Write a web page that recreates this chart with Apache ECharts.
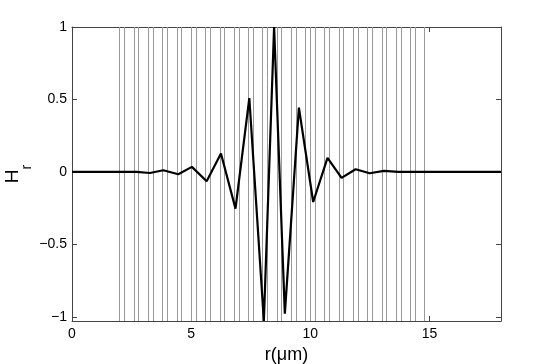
<!DOCTYPE html>
<html>
<head>
<meta charset="utf-8">
<script src="https://cdn.jsdelivr.net/npm/echarts@6/dist/echarts.min.js"></script>
<style>
  html, body { margin: 0; padding: 0; background: #fff; }
  #main { width: 554px; height: 364px; }
</style>
</head>
<body>
<div id="main"></div>
<script>
// r (um) and H_r (vertices of the curve)
const rVals = [0, 2.7, 3.27, 3.83, 4.46, 5.03, 5.65, 6.25, 6.86, 7.44, 8.05, 8.48, 8.93, 9.52, 10.12, 10.72, 11.31, 11.90, 12.49, 13.09, 13.7, 18];
const hVals = [0, 0, -0.007, 0.012, -0.016, 0.035, -0.064, 0.127, -0.253, 0.51, -1.028, 1.0, -0.977, 0.444, -0.207, 0.097, -0.041, 0.019, -0.009, 0.007, 0, 0];

// grey vertical lines (um)
const ringEdges = [
  2.0, 2.2, 2.6, 2.8, 3.2, 3.4, 3.8, 4.0, 4.4, 4.6, 5.0, 5.2, 5.6, 5.8,
  6.2, 6.4, 6.8, 7.0, 7.4, 7.6, 8.0, 8.2, 8.6, 8.8, 9.2, 9.4, 9.8, 10.0,
  10.2, 10.6, 10.8, 11.2, 11.4, 11.8, 12.0, 12.4, 12.6, 13.0, 13.2,
  13.6, 13.8, 14.2, 14.4, 14.8
];

const xTicks = [0, 5, 10, 15];
const yTicks = [-1, -0.5, 0, 0.5, 1];

const FONT = 'Liberation Sans';
const AXIS_COLOR = '#444';

let chart = echarts.init(document.getElementById('main'), null, { renderer: 'canvas' });

let curve = rVals.map((r, i) => [r, hVals[i]]);

let frameAxis = {
  axisLine: { show: true, onZero: false, lineStyle: { color: AXIS_COLOR, width: 1 } },
  splitLine: { show: false }
};

let option = {
  animation: false,
  backgroundColor: '#fff',
  grid: { left: 72, right: 53, top: 27, bottom: 43, outerBoundsMode: 'none', containLabel: false },
  xAxis: [
    Object.assign({}, frameAxis, {
      type: 'value', min: 0, max: 18, position: 'bottom',
      name: 'r(μm)', nameLocation: 'middle', nameGap: 21,
      nameTextStyle: { fontFamily: FONT, fontSize: 18, color: '#000' },
      axisTick: { show: true, inside: true, length: 5, customValues: xTicks, lineStyle: { color: AXIS_COLOR } },
      axisLabel: { customValues: xTicks, fontFamily: FONT, fontSize: 14, color: '#000', margin: 6 }
    }),
    Object.assign({}, frameAxis, {
      type: 'value', min: 0, max: 18, position: 'top',
      axisTick: { show: true, inside: true, length: 5, customValues: xTicks, lineStyle: { color: AXIS_COLOR } },
      axisLabel: { show: false }
    })
  ],
  yAxis: [
    Object.assign({}, frameAxis, {
      type: 'value', min: -1.028, max: 1, position: 'left',
      name: '{h|H}{s|r}', nameLocation: 'middle', nameGap: 49, nameRotate: 90,
      nameMoveOverlap: false,
      nameTextStyle: {
        color: '#000',
        rich: {
          h: { fontFamily: FONT, fontSize: 19, lineHeight: 20, verticalAlign: 'top' },
          s: { fontFamily: FONT, fontSize: 14, lineHeight: 12, padding: [17, 0, 0, 0], verticalAlign: 'top' }
        }
      },
      axisTick: { show: true, inside: true, length: 5, customValues: yTicks, lineStyle: { color: AXIS_COLOR } },
      axisLabel: {
        customValues: yTicks, fontFamily: FONT, fontSize: 14, color: '#000', margin: 5,
        formatter: v => (v < 0 ? '\u2212' + Math.abs(v) : String(v))
      }
    }),
    Object.assign({}, frameAxis, {
      type: 'value', min: -1.028, max: 1, position: 'right',
      axisTick: { show: true, inside: true, length: 5, customValues: yTicks, lineStyle: { color: AXIS_COLOR } },
      axisLabel: { show: false }
    })
  ],
  series: [
    {
      name: 'rings',
      type: 'line',
      data: [],
      z: 1,
      markLine: {
        silent: true,
        symbol: 'none',
        label: { show: false },
        lineStyle: { color: '#999', width: 1, type: 'solid' },
        data: ringEdges.map(v => ({ xAxis: v }))
      }
    },
    {
      name: 'Hr',
      type: 'line',
      data: curve,
      z: 5,
      symbol: 'none',
      smooth: false,
      lineStyle: { color: '#000', width: 2.2 }
    }
  ]
};

chart.setOption(option);
</script>
</body>
</html>
